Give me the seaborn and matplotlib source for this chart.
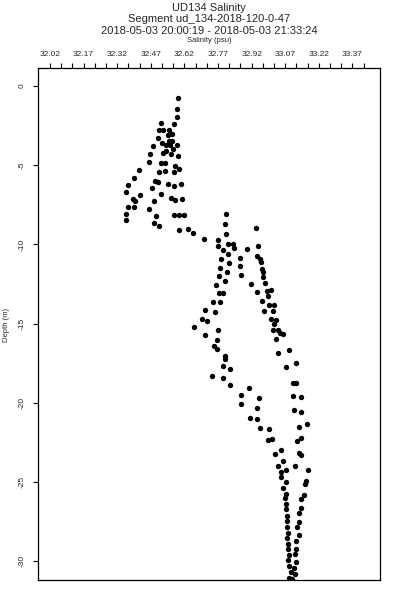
import matplotlib
matplotlib.use("Agg")
import matplotlib.pyplot as plt
import seaborn as sns
import pandas as pd

# ---------------- data ----------------
title_lines = ["UD134 Salinity",
               "Segment ud_134-2018-120-0-47",
               "2018-05-03 20:00:19 - 2018-05-03 21:33:24"]
x_label = "Salinity (psu)"
y_label = "Depth (m)"

x_major_ticks = [32.02, 32.17, 32.32, 32.47, 32.62, 32.77, 32.92, 33.07, 33.22, 33.37]
x_major_labels = ["32.02", "32.17", "32.32", "32.47", "32.62", "32.77", "32.92", "33.07", "33.22", "33.37"]
x_minor_ticks = [32.07, 32.12, 32.22, 32.27, 32.37, 32.42, 32.52, 32.57, 32.67, 32.72,
                 32.82, 32.87, 32.97, 33.02, 33.12, 33.17, 33.27, 33.32, 33.42]
y_ticks = [0, -5, -10, -15, -20, -25, -30]
y_tick_labels = ["0", "-5", "-10", "-15", "-20", "-25", "-30"]

# shallow part of the segment
salinity_shallow = [
    32.593, 32.586, 32.586, 32.575, 32.514, 32.508, 32.523, 32.550, 32.565, 32.547,
    32.502, 32.553, 32.565, 32.554, 32.521, 32.478, 32.538, 32.557, 32.588, 32.568,
    32.539, 32.526, 32.559, 32.465, 32.593, 32.461, 32.516, 32.535, 32.577, 32.417,
    32.595, 32.575, 32.508, 32.533, 32.396, 32.487, 32.502, 32.545, 32.572, 32.603,
    32.368, 32.477, 32.359, 32.420, 32.514, 32.389, 32.399, 32.559, 32.577, 32.611,
    32.486, 32.368, 32.395, 32.462, 32.359, 32.493, 32.572, 32.595, 32.620, 32.359,
    32.486, 32.505, 32.597, 32.635, 32.660, 32.709, 32.769]
depth_shallow = [
    -0.74, -1.46, -1.94, -2.42, -2.34, -2.77, -2.77, -2.80, -3.02, -3.08,
    -3.29, -3.46, -3.46, -3.59, -3.59, -3.78, -3.73, -3.72, -3.73, -3.99,
    -4.10, -4.22, -4.26, -4.29, -4.41, -4.79, -4.89, -4.89, -5.02, -5.32,
    -5.27, -5.40, -5.44, -5.38, -5.80, -5.97, -6.08, -6.18, -6.31, -6.20,
    -6.25, -6.44, -6.69, -6.88, -6.79, -7.15, -7.26, -7.09, -7.17, -7.13,
    -7.26, -7.66, -7.64, -7.74, -8.10, -8.23, -8.15, -8.12, -8.15, -8.44,
    -8.65, -8.84, -9.11, -9.03, -9.28, -9.66, -9.73]

# deeper part of the segment
salinity_deep = [
    32.806, 32.800, 32.806, 32.941, 32.771, 32.816, 32.838, 32.841, 32.794, 32.815,
    32.898, 32.947, 32.943, 32.958, 32.963, 32.785, 32.818, 32.868, 32.778, 32.868,
    32.968, 32.970, 32.972, 32.809, 32.774, 32.874, 32.803, 32.761, 32.917, 32.981,
    32.774, 32.794, 32.943, 32.990, 33.007, 32.995, 32.749, 32.778, 32.968, 32.999,
    33.019, 32.713, 32.758, 32.977, 33.014, 32.700, 32.722, 33.005, 33.029, 33.020,
    33.014, 32.663, 32.769, 33.037, 33.047, 33.062, 32.712, 32.767, 33.028, 32.753,
    32.767, 33.039, 33.087, 32.801, 32.801, 33.118, 32.791, 32.822, 33.075, 32.743,
    32.792, 33.106, 33.118, 32.822, 32.910, 32.873, 32.953, 33.105, 33.142, 32.874,
    32.943, 33.111, 33.141, 32.914, 32.944, 33.169, 33.132, 32.958, 32.999, 32.995,
    33.011, 33.121, 33.139, 33.053, 33.025, 33.130, 33.139, 33.059, 33.039, 33.115,
    33.072, 33.170, 33.053, 33.051, 33.163, 33.158, 33.072, 33.060, 33.155, 33.074,
    33.139, 33.068,
    33.074, 33.072, 33.078, 33.079, 33.079, 33.081, 33.079, 33.082, 33.084, 33.086,
    33.084, 33.088, 33.095, 33.088,
    33.142, 33.133, 33.133, 33.124, 33.130, 33.120, 33.118, 33.114, 33.117, 33.111,
    33.114, 33.099]
depth_deep = [
    -8.06, -8.73, -9.35, -8.94, -10.13, -10.00, -9.96, -10.23, -10.38, -10.59,
    -10.27, -10.11, -10.74, -10.91, -11.12, -10.95, -11.20, -10.84, -11.47, -11.39,
    -11.54, -11.75, -12.03, -11.75, -12.01, -11.96, -12.34, -12.55, -12.53, -12.45,
    -13.08, -13.08, -13.02, -12.96, -12.89, -13.25, -13.61, -13.67, -13.59, -13.84,
    -13.84, -14.13, -14.24, -14.18, -14.18, -14.70, -14.81, -14.73, -14.77, -15.04,
    -15.38, -15.23, -15.38, -15.44, -15.59, -15.65, -15.70, -16.01, -15.97, -16.39,
    -16.63, -16.88, -16.65, -17.04, -17.23, -17.51, -17.68, -17.85, -17.77, -18.31,
    -18.46, -18.73, -18.73, -18.91, -19.05, -19.51, -19.68, -19.58, -19.62, -20.11,
    -20.34, -20.46, -20.57, -20.97, -21.01, -21.33, -21.52, -21.60, -21.69, -22.34,
    -22.30, -22.41, -22.23, -22.96, -23.25, -23.15, -23.29, -23.69, -23.99, -24.03,
    -24.24, -24.26, -24.35, -24.68, -24.94, -25.15, -25.00, -25.36, -25.82, -25.78,
    -26.08, -26.03,
    -26.41, -26.71, -27.15, -27.47, -27.83, -28.21, -28.53, -28.91, -29.26, -29.62,
    -29.94, -30.34, -30.68, -31.06,
    -26.63, -26.94, -27.51, -27.85, -28.35, -28.73, -29.22, -29.58, -30.04, -30.46,
    -30.84, -31.16]

# ---------------- plot ----------------
sns.set_theme(style="white")
plt.rcParams["font.family"] = ["Liberation Sans", "DejaVu Sans"]

df = pd.DataFrame({
    "salinity": salinity_shallow + salinity_deep,
    "depth": depth_shallow + depth_deep,
})

fig = plt.figure(figsize=(4, 6), dpi=100)
ax = fig.add_axes([38.3 / 400, 20 / 600, (380 - 38.3) / 400, (580 - 67.7) / 600])

sns.scatterplot(data=df, x="salinity", y="depth", color="black", s=15,
                linewidth=0, marker="o", ax=ax, legend=False)

ax.set_xlim(31.968, 33.493)
ax.set_ylim(-31.2, 1.16)

for sp in ax.spines.values():
    sp.set_visible(True)
    sp.set_color("black")
    sp.set_linewidth(0.9)

ax.xaxis.tick_top()
ax.set_xticks(x_major_ticks)
ax.set_xticklabels(x_major_labels)
ax.set_xticks(x_minor_ticks, minor=True)
ax.set_yticks(y_ticks)
ax.set_yticklabels(y_tick_labels)
ax.tick_params(axis="x", which="both", top=True, bottom=False, direction="out",
               length=3.8, width=0.8, color="black", labelsize=6, pad=3.5,
               labeltop=True, labelbottom=False)
ax.tick_params(axis="y", which="both", left=True, right=False, direction="out",
               length=3.8, width=0.8, color="black", labelsize=6, pad=5,
               labelrotation=90)
for lab in ax.get_yticklabels():
    lab.set_va("center")
ax.set_xlabel("")
ax.set_ylabel("")

xc = (38.3 + 380) / 2 / 400
fig.text(xc, 1 - 8 / 600, title_lines[0], ha="center", va="center", fontsize=8)
fig.text(xc, 1 - 19.5 / 600, title_lines[1], ha="center", va="center", fontsize=8)
fig.text(xc, 1 - 30.5 / 600, title_lines[2], ha="center", va="center", fontsize=8)
fig.text(xc, 1 - 40 / 600, x_label, ha="center", va="center", fontsize=5.5)
fig.text(6 / 400, 1 - 325 / 600, y_label, ha="center", va="center", fontsize=5.5,
         rotation=90)

fig.savefig("out.png", dpi=100)
